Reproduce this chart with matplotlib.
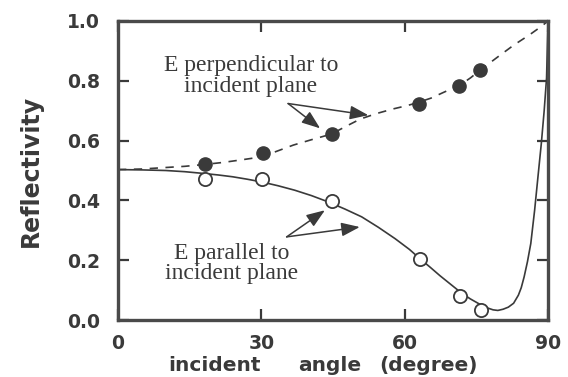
import matplotlib
matplotlib.use('Agg')
import matplotlib.pyplot as plt

# values
perp_curve_angle = [0, 5, 10, 14, 18, 22, 26, 29.4, 33, 36.7, 40.5, 44.7, 47.5, 50.7, 54, 57.6, 60.5, 62.5,
                    65.5, 68.1, 71.6, 73.8, 75.8, 78, 80, 82.8, 85, 86.5, 88, 89, 90]
perp_curve_R = [0.503, 0.505, 0.51, 0.514, 0.52, 0.527, 0.536, 0.544, 0.563, 0.585, 0.603, 0.622, 0.646,
                0.672, 0.69, 0.706, 0.717, 0.726, 0.742, 0.761, 0.786, 0.81, 0.836, 0.862, 0.886, 0.919,
                0.942, 0.958, 0.975, 0.987, 1.0]

par_curve_angle = [0, 5, 10, 14, 18, 21, 24, 27, 30, 33.5, 37, 40.5, 44, 47.5, 51, 54.5, 58, 61, 63.2,
                   65.3, 67.4, 69.5, 71.6, 73.7, 75.8, 77.2, 78.5, 79.5, 80.6, 81.7, 82.8, 83.8,
                   84.4, 85.0, 85.7, 86.4, 87.2, 87.9, 88.6, 89.2, 89.7, 90]
par_curve_R = [0.503, 0.502, 0.500, 0.496, 0.490, 0.485, 0.479, 0.471, 0.462, 0.449, 0.434, 0.416, 0.395,
               0.371, 0.345, 0.310, 0.272, 0.236, 0.205, 0.177, 0.148, 0.121, 0.094, 0.071, 0.052,
               0.041, 0.034, 0.032, 0.036, 0.043, 0.056, 0.083, 0.108, 0.144, 0.195, 0.256, 0.367,
               0.479, 0.59, 0.70, 0.81, 1.0]

perp_meas_angle = [18.2, 30.4, 44.7, 62.9, 71.4, 75.8]
perp_meas_R = [0.521, 0.557, 0.622, 0.724, 0.783, 0.836]

par_meas_angle = [18.2, 30.1, 44.7, 63.2, 71.6, 76.0]
par_meas_R = [0.473, 0.470, 0.397, 0.203, 0.080, 0.033]

x_ticks = [0, 30, 60, 90]
y_ticks = [0.0, 0.2, 0.4, 0.6, 0.8, 1.0]
y_tick_labels = ['0.0', '0.2', '0.4', '0.6', '0.8', '1.0']

ink = '#3a3a3a'

fig = plt.figure(figsize=(5.68, 3.77), dpi=100)
ax = fig.add_axes([118 / 568, 1 - 320 / 377, 430 / 568, 299 / 377])

ax.plot(perp_curve_angle, perp_curve_R, color=ink, lw=1.2, dashes=(5, 4.5))
ax.plot(par_curve_angle, par_curve_R, color=ink, lw=1.2)
ax.plot(perp_meas_angle, perp_meas_R, 'o', ms=9.5, color=ink, zorder=3)
ax.plot(par_meas_angle, par_meas_R, 'o', ms=9.5, mfc='white', mec=ink, mew=1.3, zorder=3)

ax.set_xlim(0, 90)
ax.set_ylim(0, 1.0)
ax.set_xticks(x_ticks)
ax.set_yticks(y_ticks)
ax.set_yticklabels(y_tick_labels)
ax.tick_params(direction='in', length=8, width=1.6, color=ink, top=True, right=True,
               labelsize=13.5, labelcolor=ink)
ax.tick_params(axis='x', pad=10)
ax.tick_params(axis='y', pad=13)
for lab in ax.get_xticklabels() + ax.get_yticklabels():
    lab.set_fontweight('bold')
for sp in ax.spines.values():
    sp.set_linewidth(2.4)
    sp.set_color('#4a4a4a')

ax.set_ylabel('Reflectivity', fontsize=17, fontweight='bold', color=ink, labelpad=17)

xlab = ax.get_xaxis_transform()
for word, xpos in [('incident', 20.3), ('angle', 44.4), ('(degree)', 64.9)]:
    ax.text(xpos, -0.152, word, transform=xlab, ha='center', va='center',
            fontsize=14.5, fontweight='bold', color=ink)

serif = 'Liberation Serif'
ax.text(27.8, 0.816, 'E perpendicular to\nincident plane', ha='center', va='center',
        family=serif, fontsize=17, color=ink, linespacing=0.95)
ax.text(23.7, 0.188, 'E parallel to\nincident plane', ha='center', va='center',
        family=serif, fontsize=17, color=ink, linespacing=0.95)

arrow = dict(arrowstyle='-|>,head_length=0.8,head_width=0.3', color=ink, lw=1.1,
             mutation_scale=14, shrinkA=0, shrinkB=0)
for tip in [(42.3, 0.641), (52.4, 0.685)]:
    ax.annotate('', xy=tip, xytext=(35.6, 0.724), arrowprops=arrow)
for tip in [(43.3, 0.367), (50.6, 0.311)]:
    ax.annotate('', xy=tip, xytext=(35.3, 0.278), arrowprops=arrow)

fig.savefig('out.png', dpi=100)
